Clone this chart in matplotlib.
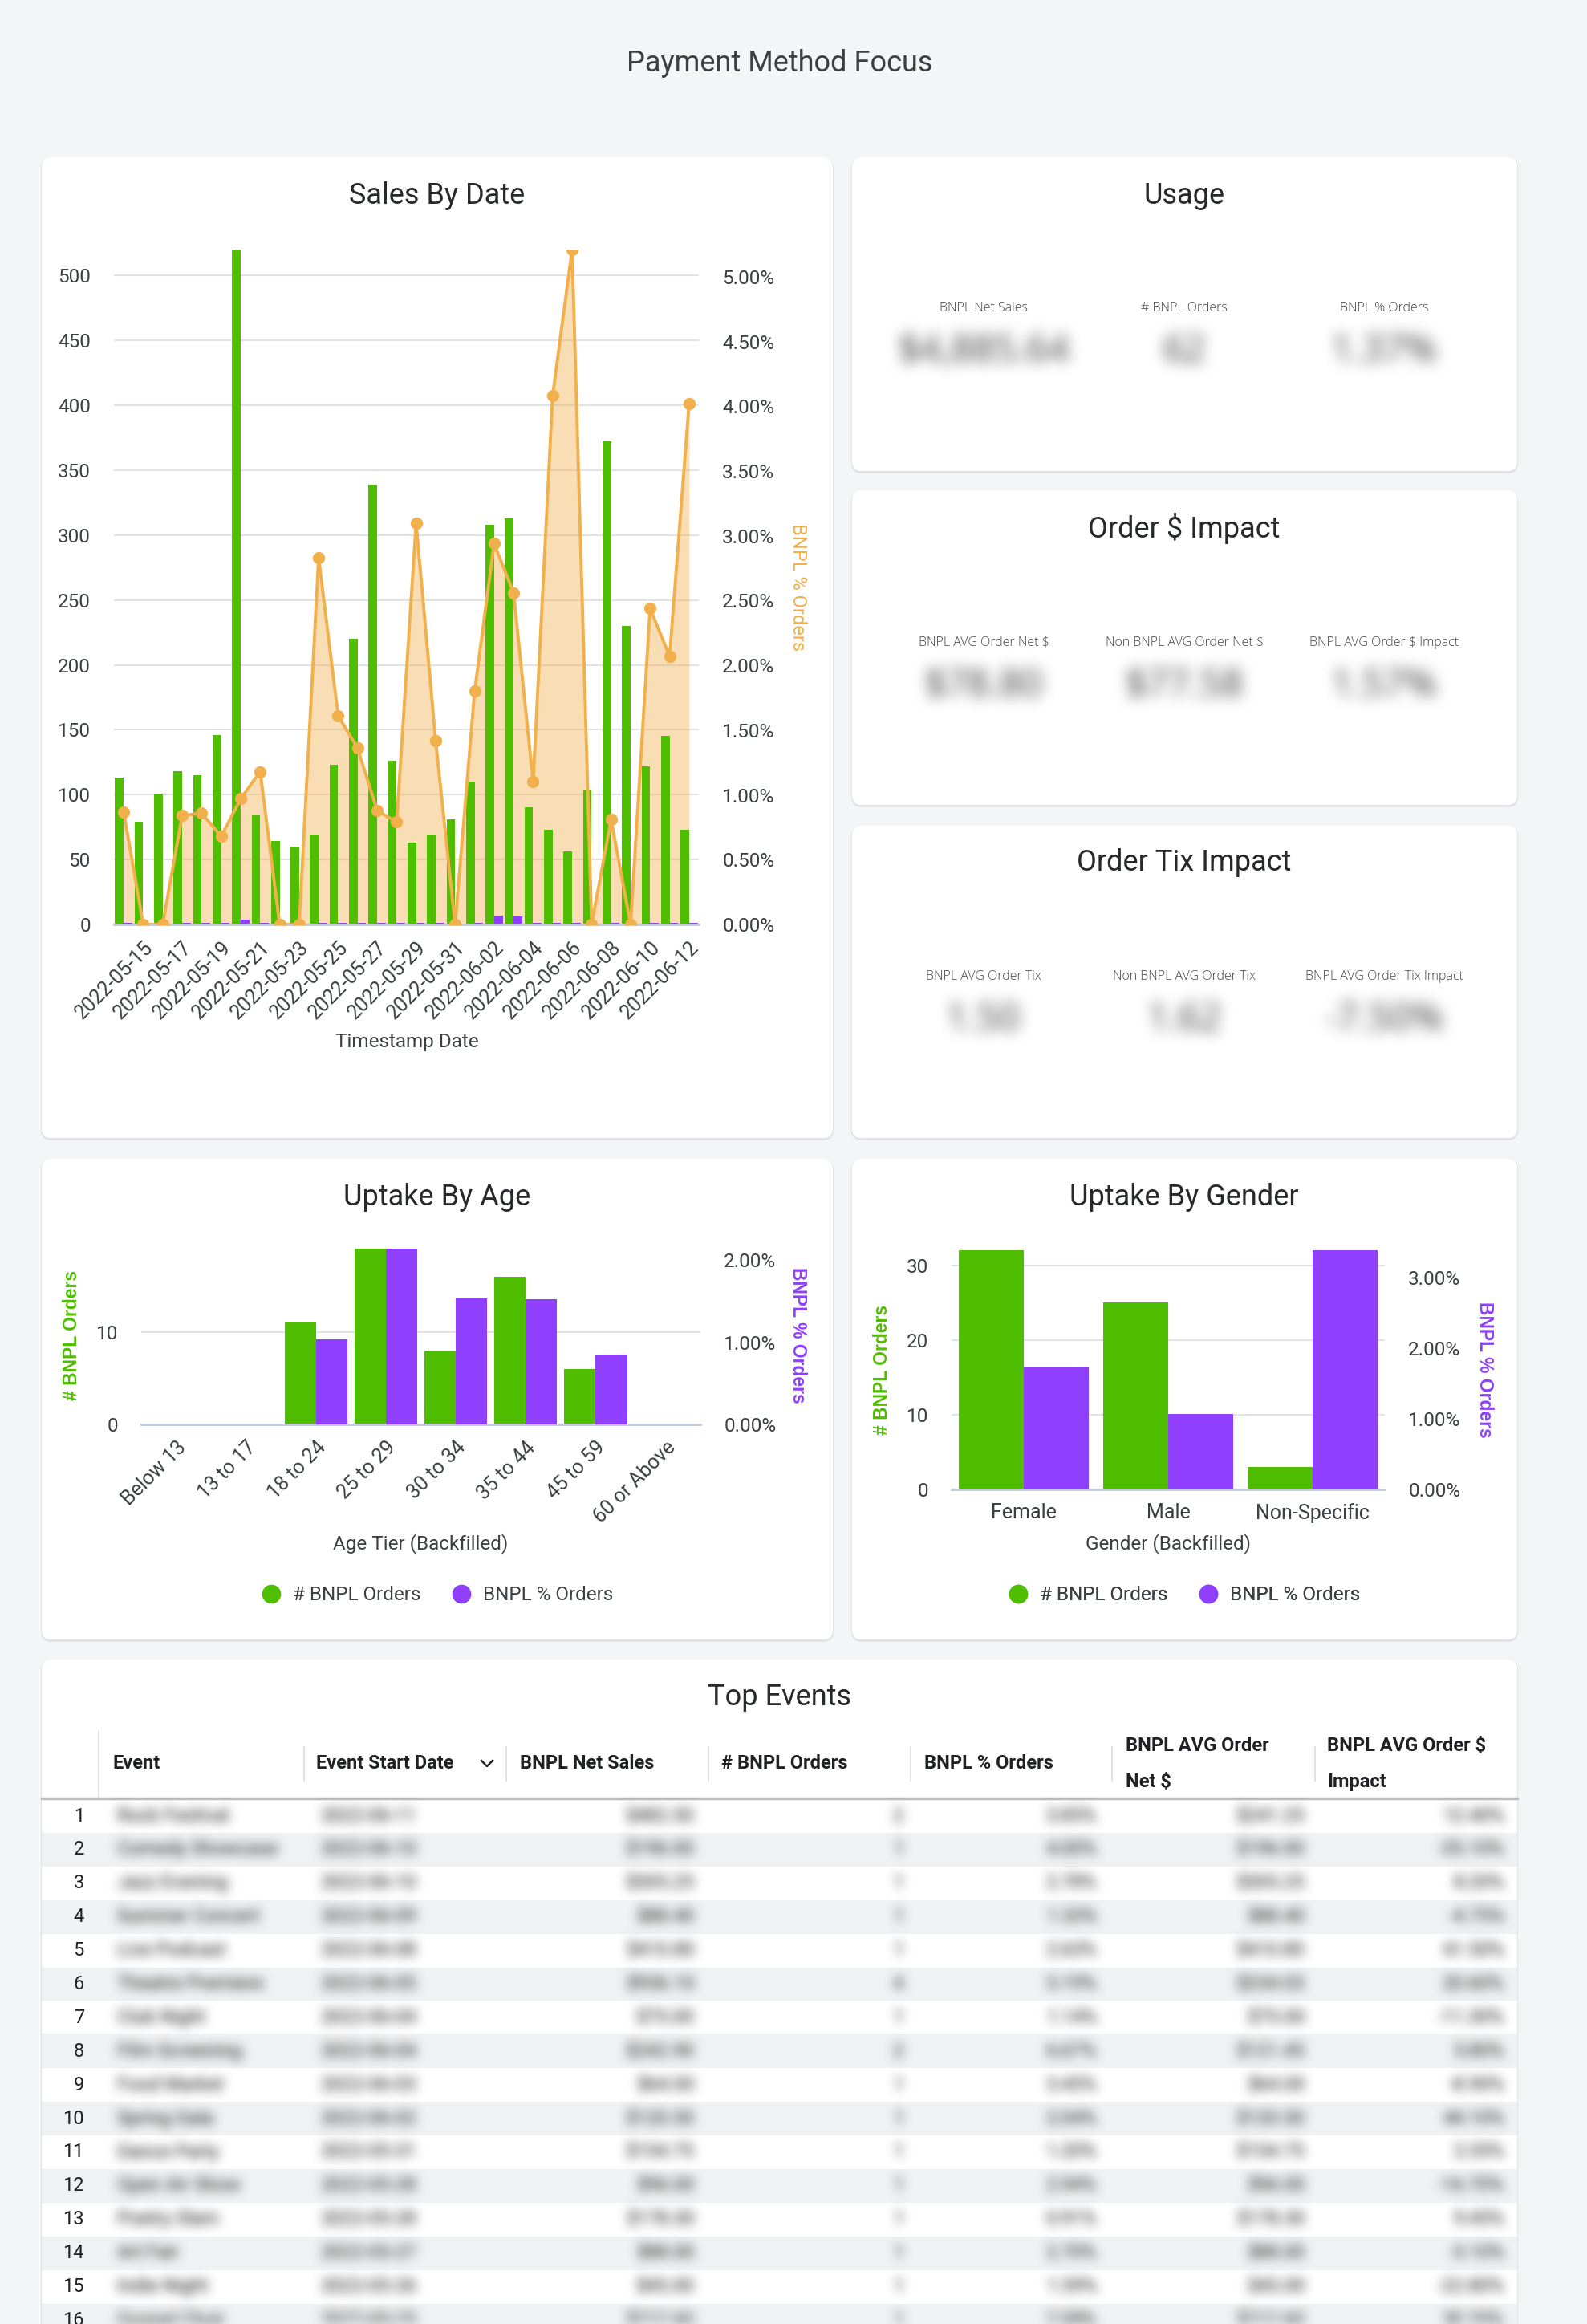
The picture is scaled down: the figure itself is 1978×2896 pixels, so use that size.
import matplotlib
matplotlib.use('Agg')
import matplotlib.pyplot as plt
import numpy as np
from matplotlib.patches import FancyBboxPatch
from matplotlib.lines import Line2D
from matplotlib.ticker import FuncFormatter

# Payment Method Focus dashboard, drawn as one tall figure in pixel units

plt.rcParams['font.family'] = ['Roboto', 'DejaVu Sans']

dates = ['2022-05-14', '2022-05-15', '2022-05-16', '2022-05-17', '2022-05-18',
         '2022-05-19', '2022-05-20', '2022-05-21', '2022-05-22', '2022-05-23',
         '2022-05-24', '2022-05-25', '2022-05-26', '2022-05-27', '2022-05-28',
         '2022-05-29', '2022-05-30', '2022-05-31', '2022-06-01', '2022-06-02',
         '2022-06-03', '2022-06-04', '2022-06-05', '2022-06-06', '2022-06-07',
         '2022-06-08', '2022-06-09', '2022-06-10', '2022-06-11', '2022-06-12']
total_orders = [113, 79, 101, 118, 115, 146, 520, 84, 64, 60, 69, 123, 220, 339, 126,
                63, 69, 81, 110, 308, 313, 90, 73, 56, 104, 372, 230, 122, 145, 73]
bnpl_orders = [1, 0, 0, 1, 1, 1, 4, 1, 0, 0, 1, 1, 1, 1, 1,
               1, 1, 0, 1, 7, 6, 1, 1, 1, 0, 1, 0, 1, 1, 1]
bnpl_pct = [0.87, 0, 0, 0.84, 0.86, 0.68, 0.97, 1.18, 0, 0, 2.83, 1.61, 1.36, 0.88, 0.79,
            3.10, 1.42, 0, 1.80, 2.94, 2.56, 1.10, 4.08, 5.21, 0, 0.81, 0, 2.44, 2.07, 4.02]

age_tiers = ['Below 13', '13 to 17', '18 to 24', '25 to 29', '30 to 34',
             '35 to 44', '45 to 59', '60 or Above']
age_orders = [0, 0, 11, 19, 8, 16, 6, 0]
age_pct = [0, 0, 1.04, 2.14, 1.53, 1.52, 0.85, 0]

genders = ['Female', 'Male', 'Non-Specific']
gender_orders = [32, 25, 3]
gender_pct = [1.73, 1.07, 3.39]

# KPI cards (values are blurred in the source)
usage_labels = ['BNPL Net Sales', '# BNPL Orders', 'BNPL % Orders']
usage_values = ['$4,885.64', '62', '1.37%']
order_labels = ['BNPL AVG Order Net $', 'Non BNPL AVG Order Net $', 'BNPL AVG Order $ Impact']
order_values = ['$78.80', '$77.58', '1.57%']
tix_labels = ['BNPL AVG Order Tix', 'Non BNPL AVG Order Tix', 'BNPL AVG Order Tix Impact']
tix_values = ['1.50', '1.62', '-7.50%']

# Top Events table (cell text is blurred in the source)
table_cols = ['Event', 'Event Start Date', 'BNPL Net Sales', '# BNPL Orders',
              'BNPL % Orders', 'BNPL AVG Order\nNet $', 'BNPL AVG Order $\nImpact']
ev_names = ['Rock Festival', 'Comedy Showcase', 'Jazz Evening', 'Summer Concert',
            'Live Podcast', 'Theatre Premiere', 'Club Night', 'Film Screening',
            'Food Market', 'Spring Gala', 'Dance Party', 'Open Air Show',
            'Poetry Slam', 'Art Fair', 'Indie Night', 'Gospel Choir']
ev_dates = ['2022-06-11', '2022-06-10', '2022-06-10', '2022-06-09', '2022-06-08',
            '2022-06-05', '2022-06-04', '2022-06-04', '2022-06-03', '2022-06-02',
            '2022-05-31', '2022-05-28', '2022-05-28', '2022-05-27', '2022-05-26',
            '2022-05-25']
ev_sales = ['$482.50', '$196.00', '$305.25', '$88.40', '$410.80', '$936.10', '$75.00',
            '$242.90', '$64.00', '$120.50', '$154.75', '$96.00', '$178.30', '$88.00',
            '$45.00', '$212.60']
ev_orders = ['2', '1', '1', '1', '1', '4', '1', '2', '1', '1', '1', '1', '1', '1', '1', '1']
ev_pct = ['3.85%', '4.00%', '2.78%', '1.33%', '2.63%', '5.19%', '1.14%', '6.67%', '3.45%',
          '2.04%', '1.20%', '2.94%', '0.91%', '2.70%', '1.59%', '2.08%']
ev_avg = ['$241.25', '$196.00', '$305.25', '$88.40', '$410.80', '$234.03', '$75.00',
          '$121.45', '$64.00', '$120.50', '$154.75', '$96.00', '$178.30', '$88.00',
          '$45.00', '$212.60']
ev_impact = ['12.40%', '-35.10%', '8.20%', '-4.75%', '61.50%', '20.60%', '-11.30%', '5.80%',
             '-8.90%', '44.10%', '2.35%', '-16.70%', '9.45%', '-3.10%', '-22.80%', '30.20%']

GREEN = '#4fbd00'
PURPLE = '#8f3ffd'
ORANGE = '#f1b04c'
TXT = '#3c4043'
GRID = '#e2e3e5'
BASE = '#c6cade'
PAGE = '#f4f5f7'

W, H = 1978, 2896
fig = plt.figure(figsize=(W / 100, H / 100), dpi=100, facecolor=PAGE)


def place(x0, y0, x1, y1):
    return fig.add_axes([x0 / W, 1 - y1 / H, (x1 - x0) / W, (y1 - y0) / H])


def box1d(a, r, axis):
    a = np.moveaxis(a, axis, 0)
    p = np.pad(a, [(r + 1, r)] + [(0, 0)] * (a.ndim - 1))
    c = np.cumsum(p, axis=0)
    out = (c[2 * r + 1:] - c[:-2 * r - 1]) / (2 * r + 1)
    return np.moveaxis(out, 0, axis)


def make_blur(r, gain):
    def blur(im, dpi):
        pad = 3 * r + 3
        im = np.pad(im, [(pad, pad), (pad, pad), (0, 0)])
        a = im[..., 3:4]
        st = np.concatenate([im[..., :3] * a, a], axis=2)
        for _ in range(3):
            st = box1d(st, r, 0)
            st = box1d(st, r, 1)
        al = st[..., 3:4]
        out = np.zeros_like(st)
        out[..., :3] = st[..., :3] / np.maximum(al, 1e-6)
        out[..., 3:4] = np.clip(al * gain, 0, 1)
        return np.clip(out, 0, 1), -pad, -pad
    return blur


def overlay(z):
    a = fig.add_axes([0, 0, 1, 1], zorder=z)
    a.set_xlim(0, W)
    a.set_ylim(H, 0)
    a.axis('off')
    a.patch.set_visible(False)
    return a


bg = overlay(0)


def card(x0, y0, x1, y1):
    bg.add_patch(FancyBboxPatch((x0 - 1, y0), x1 - x0 + 2, y1 - y0 + 3,
                                boxstyle='round,pad=0,rounding_size=13',
                                fc='#e1e3e7', ec='none'))
    bg.add_patch(FancyBboxPatch((x0, y0), x1 - x0, y1 - y0,
                                boxstyle='round,pad=0,rounding_size=12',
                                fc='white', ec='none'))


def title(x, y, s, size=26):
    bg.text(x, y, s, ha='center', va='center', fontsize=size, color='#27292c')


bg.text(972, 79, 'Payment Method Focus', ha='center', va='center',
        fontsize=26, color=TXT)

card(52, 196, 1038, 1418)
card(1062, 196, 1891, 587)
card(1062, 611, 1891, 1003)
card(1062, 1029, 1891, 1418)
card(52, 1444, 1038, 2043)
card(1062, 1444, 1891, 2043)
card(52, 2068, 1891, 2960)

title(545, 244, 'Sales By Date')
title(1476, 244, 'Usage')
title(1476, 659, 'Order $ Impact')
title(1476, 1075, 'Order Tix Impact')
title(545, 1492, 'Uptake By Age')
title(1476, 1492, 'Uptake By Gender')
title(972, 2115, 'Top Events')


def style_axes(a):
    for s in ['left', 'right', 'top']:
        a.spines[s].set_visible(False)
    a.spines['bottom'].set_color(BASE)
    a.spines['bottom'].set_linewidth(2)
    a.tick_params(length=0, labelsize=17.5, labelcolor=TXT)
    a.patch.set_visible(False)


pct_fmt = FuncFormatter(lambda v, p: '%.2f%%' % v)

# ---- Sales By Date
ax = place(142, 311, 871, 1152)
x = np.arange(len(dates))
ax.bar(x - 0.22, total_orders, 0.44, color=GREEN, zorder=3)
ax.bar(x + 0.22, bnpl_orders, 0.44, color=PURPLE, zorder=3)
ax2 = ax.twinx()
ax.fill_between(x, bnpl_pct, color=ORANGE, alpha=0.42, lw=0, zorder=1,
                transform=ax2.transData)
ax2.plot(x, bnpl_pct, color=ORANGE, lw=2.8, marker='o', ms=10, zorder=4)
ax.set_xlim(-0.5, len(dates) - 0.5)
ax.set_ylim(0, 520)
ax2.set_ylim(0, 5.21)
ax.set_yticks(range(0, 501, 50))
ax2.set_yticks(np.arange(0, 5.01, 0.5))
ax2.yaxis.set_major_formatter(pct_fmt)
ax.grid(axis='y', color=GRID, lw=1.5, zorder=0)
ax.set_axisbelow(True)
ax.set_xticks(x[1::2])
ax.set_xticklabels(dates[1::2], rotation=45, ha='right', rotation_mode='anchor')
style_axes(ax)
style_axes(ax2)
ax.tick_params(axis='y', pad=21)
ax.tick_params(axis='x', pad=12, labelsize=18)
ax2.tick_params(axis='y', pad=21)
bg.text(994, 731, 'BNPL % Orders', rotation=270, ha='center', va='center',
        fontsize=17, color=ORANGE)
bg.text(507, 1298, 'Timestamp Date', ha='center', va='center', fontsize=17.5, color=TXT)
h1 = [Line2D([], [], ls='none', marker='o', ms=16, color=GREEN),
      Line2D([], [], ls='none', marker='o', ms=16, color=PURPLE),
      Line2D([], [], lw=2.8, marker='o', ms=9, color=ORANGE)]
bg.legend(h1, ['# Total Orders', '# BNPL Orders', 'BNPL % Orders'], ncol=3,
          loc='center', bbox_to_anchor=(545, 1363), bbox_transform=bg.transData,
          frameon=False, fontsize=17.5, handlelength=1.4, handletextpad=0.5,
          columnspacing=1.6, labelcolor=TXT)


def dual_bars(box, cats, left, right, lmax, rmax, lticks, rticks, rot):
    a = place(*box)
    xs = np.arange(len(cats))
    a.bar(xs - 0.225, left, 0.45, color=GREEN, zorder=3)
    a.set_ylim(0, lmax)
    a.set_yticks(lticks)
    a.grid(axis='y', color=GRID, lw=1.5, zorder=0)
    a.set_axisbelow(True)
    b = a.twinx()
    b.bar(xs + 0.225, right, 0.45, color=PURPLE, zorder=3)
    b.set_ylim(0, rmax)
    b.set_yticks(rticks)
    b.yaxis.set_major_formatter(pct_fmt)
    a.set_xlim(-0.5, len(cats) - 0.5)
    a.set_xticks(xs)
    if rot:
        a.set_xticklabels(cats, rotation=45, ha='right', rotation_mode='anchor')
    else:
        a.set_xticklabels(cats)
    style_axes(a)
    style_axes(b)
    a.tick_params(axis='y', pad=21)
    b.tick_params(axis='y', pad=21)
    a.tick_params(axis='x', pad=12, labelsize=18)
    return a


ylab_font = ['Liberation Sans', 'DejaVu Sans']

# ---- Uptake By Age
dual_bars((176, 1556, 873, 1775), age_tiers, age_orders, age_pct, 19, 2.14,
          [0, 10], [0, 1, 2], True)
bg.text(90, 1664, '# BNPL Orders', rotation=90, ha='center', va='center',
        fontsize=16.5, color=GREEN, family=ylab_font, fontweight='bold')
bg.text(995, 1664, 'BNPL % Orders', rotation=270, ha='center', va='center',
        fontsize=16.5, color=PURPLE, family=ylab_font, fontweight='bold')
bg.text(524, 1924, 'Age Tier (Backfilled)', ha='center', va='center', fontsize=17.5, color=TXT)

# ---- Uptake By Gender
dual_bars((1186, 1558, 1726, 1856), genders, gender_orders, gender_pct, 32, 3.39,
          [0, 10, 20, 30], [0, 1, 2, 3], False)
bg.text(1100, 1707, '# BNPL Orders', rotation=90, ha='center', va='center',
        fontsize=16.5, color=GREEN, family=ylab_font, fontweight='bold')
bg.text(1850, 1707, 'BNPL % Orders', rotation=270, ha='center', va='center',
        fontsize=16.5, color=PURPLE, family=ylab_font, fontweight='bold')
bg.text(1456, 1924, 'Gender (Backfilled)', ha='center', va='center', fontsize=17.5, color=TXT)

h2 = [Line2D([], [], ls='none', marker='o', ms=16, color=GREEN),
      Line2D([], [], ls='none', marker='o', ms=16, color=PURPLE)]
for cx in (545, 1476):
    bg.legend(h2, ['# BNPL Orders', 'BNPL % Orders'], ncol=2, loc='center',
              bbox_to_anchor=(cx, 1988), bbox_transform=bg.transData, frameon=False,
              fontsize=17.5, handlelength=1.0, handletextpad=0.6, columnspacing=1.6,
              labelcolor=TXT)
    bg.add_artist(bg.get_legend())

# ---- KPI cards
kb = overlay(5)
kb.set_agg_filter(make_blur(8, 1.3))
kpi_x = [1226, 1476, 1725]
for labels, values, ly in [(usage_labels, usage_values, 384),
                           (order_labels, order_values, 801),
                           (tix_labels, tix_values, 1217)]:
    for cx, lab, val in zip(kpi_x, labels, values):
        bg.text(cx, ly, lab, ha='center', va='center', fontsize=11.5, color='#444',
                family=['Open Sans', 'DejaVu Sans'], fontweight='light')
        kb.text(cx, ly + 54, val, ha='center', va='center', fontsize=34, color='#666',
                family=['Open Sans', 'DejaVu Sans'])

# ---- Top Events table
col_sep = [379, 631, 883, 1135, 1386, 1639]
head_x = [140, 394, 648, 899, 1152, 1403, 1654]
for hx, name in zip(head_x, table_cols):
    bg.text(hx, 2198, name, ha='left', va='center', fontsize=17, fontweight='bold',
            color='#202124', linespacing=2.2)
bg.plot([600, 607, 614], [2194, 2201, 2194], color='#202124', lw=1.8)
bg.plot([123, 123], [2157, 2241], color='#dadce0', lw=1.2)
for sx in col_sep:
    bg.plot([sx, sx], [2177, 2219], color='#dadce0', lw=1.2)

row_h = 41.9
row0 = 2263
for i in range(len(ev_names)):
    cy = row0 + i * row_h
    if i % 2 == 1:
        bg.add_patch(plt.Rectangle((52, cy - row_h / 2), 1839, row_h, fc='#f0f1f2', ec='none'))
    bg.text(105, cy, str(i + 1), ha='right', va='center', fontsize=17, color='#202124')
bg.plot([52, 1891], [2241, 2241], color='#bdbdbd', lw=2.5)

tb = overlay(5)
tb.set_agg_filter(make_blur(6, 1.4))
cols = [(146, 'left', ev_names), (400, 'left', ev_dates), (866, 'right', ev_sales),
        (1126, 'right', ev_orders), (1367, 'right', ev_pct), (1627, 'right', ev_avg),
        (1875, 'right', ev_impact)]
for i in range(len(ev_names)):
    cy = row0 + i * row_h
    for cx, al, vals in cols:
        tb.text(cx, cy, vals[i], ha=al, va='center', fontsize=17, color='#555')

fig.savefig('out.png', dpi=100, facecolor=PAGE)
